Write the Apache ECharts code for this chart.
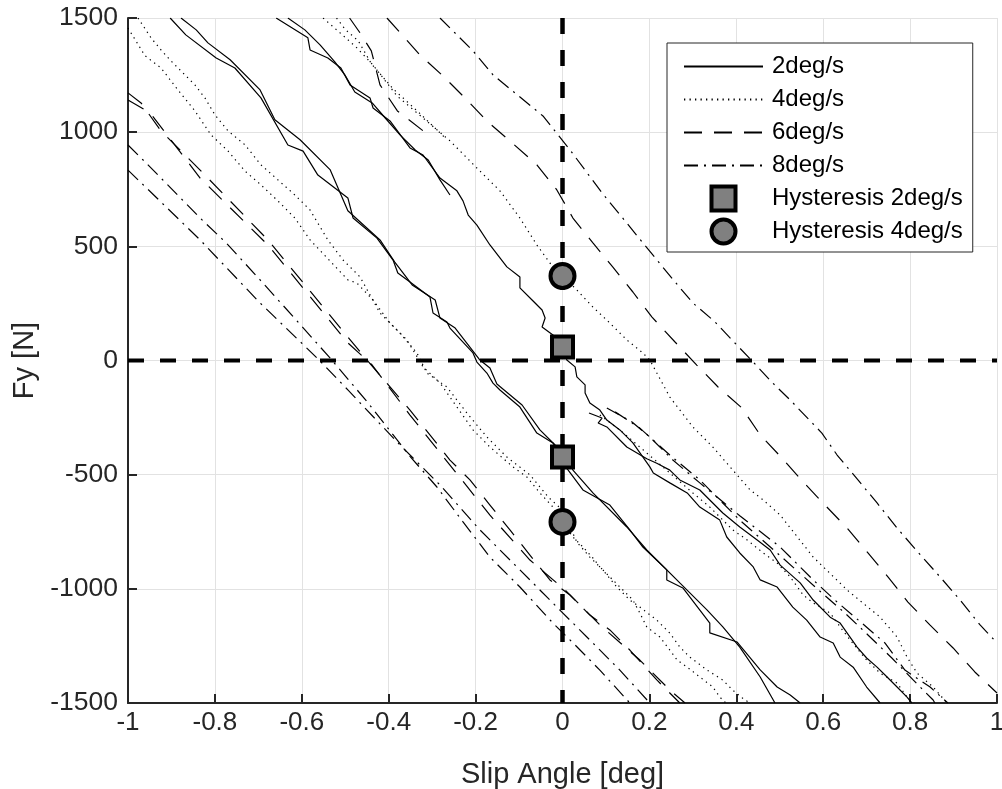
<!DOCTYPE html>
<html><head><meta charset="utf-8">
<script src="https://cdn.jsdelivr.net/npm/echarts@6/dist/echarts.min.js"></script>
<style>html,body{margin:0;padding:0;background:#fff;overflow:hidden;width:1002px;height:789px}#c{position:absolute;left:0;top:0;width:1002px;height:789px}</style>
</head><body><div id="c"></div>
<script>
// ---- data (slip angle [deg], Fy [N]) ----
const xTicks = [-1,-0.8,-0.6,-0.4,-0.2,0,0.2,0.4,0.6,0.8,1];
const yTicks = [-1500,-1000,-500,0,500,1000,1500];
const legendNames = ['2deg/s','4deg/s','6deg/s','8deg/s','Hysteresis 2deg/s','Hysteresis 4deg/s'];

// 2deg/s
const L2a = [[-0.903,1500],[-0.867,1426],[-0.797,1325],[-0.754,1281],[-0.694,1150],[-0.632,944],[-0.597,917],[-0.563,812],[-0.494,712],[-0.482,624],[-0.427,536],[-0.390,440],[-0.379,383],[-0.351,344],[-0.305,278],[-0.298,208],[-0.266,169],[-0.259,142],[-0.206,33],[-0.197,-7],[-0.174,-55],[-0.160,-99],[-0.144,-129],[-0.098,-204],[-0.059,-318],[-0.022,-361],[-0.001,-423],[0.001,-449],[0.047,-567],[0.109,-633],[0.155,-742],[0.185,-817],[0.240,-917],[0.240,-961],[0.277,-996],[0.339,-1150],[0.339,-1193],[0.402,-1233],[0.455,-1355],[0.494,-1430],[0.524,-1465],[0.547,-1500]];
const L2b = [[-0.878,1500],[-0.843,1448],[-0.816,1391],[-0.765,1317],[-0.696,1185],[-0.662,1054],[-0.604,967],[-0.535,836],[-0.494,656],[-0.42,528],[-0.386,431],[-0.346,331],[-0.293,265],[-0.282,186],[-0.247,142],[-0.190,2],[-0.167,-33],[-0.151,-103],[-0.093,-195],[-0.052,-304],[-0.017,-370],[0.006,-401],[0.024,-480],[0.070,-580],[0.148,-729],[0.194,-830],[0.270,-974],[0.333,-1093],[0.369,-1167],[0.408,-1255],[0.455,-1386],[0.489,-1500]];
const R2a = [[-0.659,1500],[-0.586,1413],[-0.581,1360],[-0.540,1325],[-0.510,1281],[-0.489,1207],[-0.443,1150],[-0.436,1106],[-0.397,1049],[-0.351,931],[-0.321,900],[-0.282,799],[-0.243,743],[-0.229,699],[-0.217,637],[-0.197,593],[-0.167,506],[-0.128,410],[-0.098,366],[-0.098,318],[-0.070,265],[-0.047,221],[-0.040,186],[-0.047,147],[-0.022,112],[0,68],[0.010,2],[0.029,-28],[0.033,-72],[0.052,-107],[0.052,-142],[0.063,-186],[0.086,-217],[0.102,-261],[0.132,-304],[0.162,-361],[0.201,-466],[0.209,-493],[0.247,-536],[0.287,-580],[0.316,-642],[0.362,-699],[0.378,-773],[0.408,-843],[0.439,-904],[0.455,-961],[0.494,-992],[0.530,-1080],[0.562,-1137],[0.593,-1211],[0.623,-1237],[0.639,-1299],[0.669,-1343],[0.700,-1430],[0.731,-1500]];
const R2bTop = [[-0.632,1500],[-0.593,1448],[-0.558,1382],[-0.524,1308],[-0.501,1251],[-0.478,1176],[-0.438,1128],[-0.408,1062],[-0.374,988],[-0.339,922],[-0.309,878],[-0.282,791],[-0.259,725]];
const R2bLow = [[0.061,-230],[0.091,-252],[0.082,-274],[0.102,-291],[0.148,-379],[0.194,-430],[0.217,-450],[0.247,-480],[0.270,-523],[0.316,-567],[0.339,-611],[0.369,-668],[0.408,-729],[0.448,-786],[0.478,-830],[0.501,-896],[0.547,-974],[0.577,-1049],[0.616,-1124],[0.639,-1150],[0.678,-1255],[0.700,-1303],[0.724,-1343],[0.747,-1386],[0.770,-1430],[0.793,-1474],[0.804,-1500]];

// 4deg/s
const L4a = [[-1,1456],[-0.961,1335],[-0.924,1281],[-0.885,1185],[-0.846,1093],[-0.809,988],[-0.770,918],[-0.731,830],[-0.694,769],[-0.655,699],[-0.616,624],[-0.581,528],[-0.494,353],[-0.473,339],[-0.436,265],[-0.397,164],[-0.358,90],[-0.321,-28],[-0.282,-98],[-0.243,-204],[-0.206,-304],[-0.167,-379],[-0.114,-466],[-0.082,-510],[-0.052,-580],[-0.022,-642],[0,-708],[0.024,-773],[0.047,-817],[0.070,-865],[0.086,-904],[0.109,-948],[0.139,-1005],[0.162,-1049],[0.178,-1106],[0.194,-1167],[0.224,-1211],[0.247,-1268],[0.264,-1312],[0.287,-1343],[0.316,-1386],[0.346,-1430],[0.362,-1474],[0.376,-1500]];
const L4b = [[-0.977,1500],[-0.947,1413],[-0.924,1360],[-0.901,1312],[-0.878,1268],[-0.846,1207],[-0.823,1150],[-0.800,1076],[-0.770,1006],[-0.731,945],[-0.694,857],[-0.655,791],[-0.616,725],[-0.581,659],[-0.540,528],[-0.505,440],[-0.466,366],[-0.420,208],[-0.374,120],[-0.335,33],[-0.312,-55],[-0.266,-116],[-0.220,-230],[-0.174,-335],[-0.128,-423],[-0.075,-501],[-0.033,-598],[0,-655],[0.033,-795],[0.063,-861],[0.093,-917],[0.125,-992],[0.155,-1049],[0.178,-1080],[0.217,-1137],[0.247,-1194],[0.270,-1255],[0.293,-1299],[0.333,-1356],[0.369,-1400],[0.392,-1444],[0.420,-1487],[0.432,-1500]];
const R4a = [[-0.551,1500],[-0.512,1435],[-0.473,1369],[-0.436,1294],[-0.381,1159],[-0.321,1062],[-0.259,962],[-0.197,843],[-0.144,743],[-0.098,624],[-0.059,506],[-0.029,427],[0,370],[0.033,309],[0.070,234],[0.109,164],[0.148,90],[0.185,33],[0.201,2],[0.247,-160],[0.300,-291],[0.346,-379],[0.392,-480],[0.432,-567],[0.462,-611],[0.501,-677],[0.577,-861],[0.655,-1005],[0.731,-1124],[0.770,-1211],[0.793,-1299],[0.816,-1369],[0.853,-1430],[0.885,-1500]];
const R4bTop = [[-0.52,1500],[-0.50,1450],[-0.47,1400],[-0.44,1300],[-0.39,1190],[-0.33,1085],[-0.27,975]];
const R4bLow = [[0.086,-239],[0.132,-304],[0.178,-379],[0.231,-466],[0.300,-580],[0.339,-642],[0.392,-742],[0.425,-786],[0.462,-843],[0.494,-887],[0.524,-948],[0.554,-1027],[0.577,-1062],[0.616,-1106],[0.639,-1167],[0.662,-1224],[0.700,-1312],[0.731,-1369],[0.770,-1413],[0.793,-1474],[0.809,-1500]];

// 6deg/s
const L6a = [[-1,1172],[-0.970,1128],[-0.924,1005],[-0.834,834],[-0.678,528],[-0.494,103],[-0.450,2],[-0.351,-217],[-0.259,-436],[-0.213,-523],[-0.167,-633],[-0.121,-742],[-0.075,-852],[-0.029,-961],[0.017,-1027],[0.063,-1115],[0.109,-1180],[0.155,-1268],[0.217,-1399],[0.270,-1500]];
const L6b = [[-1,1141],[-0.949,1084],[-0.834,799],[-0.678,506],[-0.494,77],[-0.438,-20],[-0.351,-239],[-0.259,-458],[-0.167,-677],[-0.075,-874],[0.006,-1005],[0.086,-1158],[0.178,-1312],[0.247,-1443],[0.282,-1500]];
const R6a = [[-0.404,1500],[-0.328,1338],[-0.275,1246],[-0.220,1141],[-0.174,1049],[-0.116,953],[-0.059,857],[-0.013,747],[0.024,624],[0.070,515],[0.116,409],[0.162,300],[0.206,190],[0.259,81],[0.309,-20],[0.358,-116],[0.413,-208],[0.455,-326],[0.505,-427],[0.554,-532],[0.604,-633],[0.655,-734],[0.703,-843],[0.749,-948],[0.795,-1058],[0.846,-1159],[0.899,-1259],[0.949,-1364],[1.0,-1456]];
const R6b = [[-0.49,1500],[-0.466,1435],[-0.44,1356],[-0.42,1207],[-0.38,1093],[-0.31,990]];

// 8deg/s
const L8a = [[-1,944],[-0.954,857],[-0.834,624],[-0.774,515],[-0.696,353],[-0.60,150],[-0.53,0],[-0.45,-180],[-0.351,-420],[-0.289,-554],[-0.229,-707],[-0.167,-861],[-0.098,-992],[-0.022,-1150],[0.029,-1246],[0.086,-1356],[0.155,-1500]];
const L8b = [[-1,834],[-0.834,528],[-0.696,252],[-0.560,2],[-0.494,-129],[-0.374,-370],[-0.282,-545],[-0.190,-742],[-0.098,-917],[-0.006,-1093],[0.063,-1224],[0.132,-1356],[0.201,-1500]];
const R8a = [[-0.282,1500],[-0.206,1356],[-0.160,1251],[-0.045,1071],[0.017,923],[0.091,734],[0.148,602],[0.185,515],[0.259,344],[0.300,252],[0.351,169],[0.390,90],[0.439,-7],[0.484,-99],[0.524,-173],[0.597,-318],[0.632,-414],[0.680,-523],[0.724,-624],[0.770,-734],[0.818,-839],[0.869,-948],[0.915,-1049],[0.961,-1158],[1.0,-1237]];
const R8bLow = [[0.102,-208],[0.160,-269],[0.201,-335],[0.254,-436],[0.316,-536],[0.408,-680],[0.501,-817],[0.577,-961],[0.632,-1058],[0.689,-1150],[0.742,-1237],[0.788,-1356],[0.846,-1430],[0.887,-1500]];
const R8cLow = [[0.121,-225],[0.178,-296],[0.247,-414],[0.316,-523],[0.408,-699],[0.507,-865],[0.597,-1018],[0.650,-1106],[0.703,-1202],[0.758,-1303],[0.807,-1399],[0.853,-1487],[0.857,-1500]];

// hysteresis markers
const hyst2 = [[0,59],[0,-423]];
const hyst4 = [[0,370],[0,-707]];
// zero reference lines
const zeroH = [[-1,0],[1,0]];
const zeroV = [[0,1500],[0,-1500]];

// ---- chart ----
const FONT = 'Liberation Sans, Arial, Helvetica, sans-serif';
const groups = [
  ['2deg/s', 'solid', [L2a, L2b, R2a, R2bTop, R2bLow]],
  ['4deg/s', [1.3, 4.2], [L4a, L4b, R4a, R4bTop, R4bLow]],
  ['6deg/s', [18, 12], [L6a, L6b, R6a, R6b]],
  ['8deg/s', [14, 6, 2, 6], [L8a, L8b, R8a, R8bLow, R8cLow]]
];
const series = [];
groups.forEach(([name, dash, lines]) => {
  lines.forEach(d => series.push({
    name, type: 'line', data: d, symbol: 'none', showSymbol: false,
    lineStyle: {color: '#000', width: 1.2, type: dash}, itemStyle: {color: '#000'},
    z: 2, silent: true, animation: false
  }));
});
series.push({name: 'zeroH', type: 'line', data: zeroH, symbol: 'none',
  lineStyle: {color: '#000', width: 4, type: [16, 16]}, z: 5, silent: true, animation: false});
series.push({name: 'zeroV', type: 'line', data: zeroV, symbol: 'none',
  lineStyle: {color: '#000', width: 4.5, type: [16, 16]}, z: 5, silent: true, animation: false});
series.push({name: 'Hysteresis 2deg/s', type: 'scatter', data: hyst2, symbol: 'rect', symbolSize: 21,
  itemStyle: {color: '#808080', borderColor: '#000', borderWidth: 4, opacity: 1}, z: 10, animation: false});
series.push({name: 'Hysteresis 4deg/s', type: 'scatter', data: hyst4, symbol: 'circle', symbolSize: 24,
  itemStyle: {color: '#808080', borderColor: '#000', borderWidth: 4, opacity: 1}, z: 10, animation: false});

const chart = echarts.init(document.getElementById('c'), null, {renderer: 'canvas', width: 1002, height: 789});
const axisCommon = {
  type: 'value',
  axisLine: {show: true, onZero: false, lineStyle: {color: '#262626', width: 2}},
  axisTick: {show: true, inside: true, length: 9, lineStyle: {color: '#262626', width: 2}},
  splitLine: {show: true, lineStyle: {color: '#e2e2e2', width: 1}},
  nameLocation: 'middle',
  nameTextStyle: {fontSize: 29, color: '#262626', fontFamily: FONT}
};
const legendData = legendNames.map(n => {
  if (n === 'Hysteresis 2deg/s') return {name: n, icon: 'path://M0,0L10,0L10,10L0,10Z', itemStyle: {borderWidth: 4, borderColor: '#000'}};
  if (n === 'Hysteresis 4deg/s') return {name: n, icon: 'circle', itemStyle: {borderWidth: 4, borderColor: '#000'}};
  return {name: n, itemStyle: {opacity: 0, borderWidth: 0}};
});
chart.setOption({
  animation: false,
  backgroundColor: '#fff',
  grid: {left: 128, right: 5, top: 18, bottom: 86, containLabel: false, outerBoundsMode: 'none'},
  xAxis: Object.assign({}, axisCommon, {
    min: xTicks[0], max: xTicks[xTicks.length - 1], interval: 0.2,
    name: 'Slip Angle [deg]', nameGap: 57,
    axisLabel: {fontSize: 26, color: '#262626', margin: 7, fontFamily: FONT,
      formatter: v => String(Math.round(v * 10) / 10)}
  }),
  yAxis: Object.assign({}, axisCommon, {
    min: yTicks[0], max: yTicks[yTicks.length - 1], interval: 500,
    name: 'Fy [N]', nameGap: 86,
    axisLabel: {fontSize: 26.5, color: '#262626', margin: 10, fontFamily: FONT,
      formatter: v => String(Math.round(v))}
  }),
  legend: {
    orient: 'vertical', left: 667, top: 43,
    padding: [7, 10, 4, 16], itemGap: 0, itemWidth: 79, itemHeight: 24,
    symbolKeepAspect: true,
    backgroundColor: '#fff', borderColor: '#262626', borderWidth: 1, borderRadius: 0,
    selectedMode: false,
    textStyle: {fontSize: 24, lineHeight: 33, color: '#000', fontFamily: FONT, padding: [0, 0, 0, 4]},
    data: legendData
  },
  series
});
</script></body></html>
